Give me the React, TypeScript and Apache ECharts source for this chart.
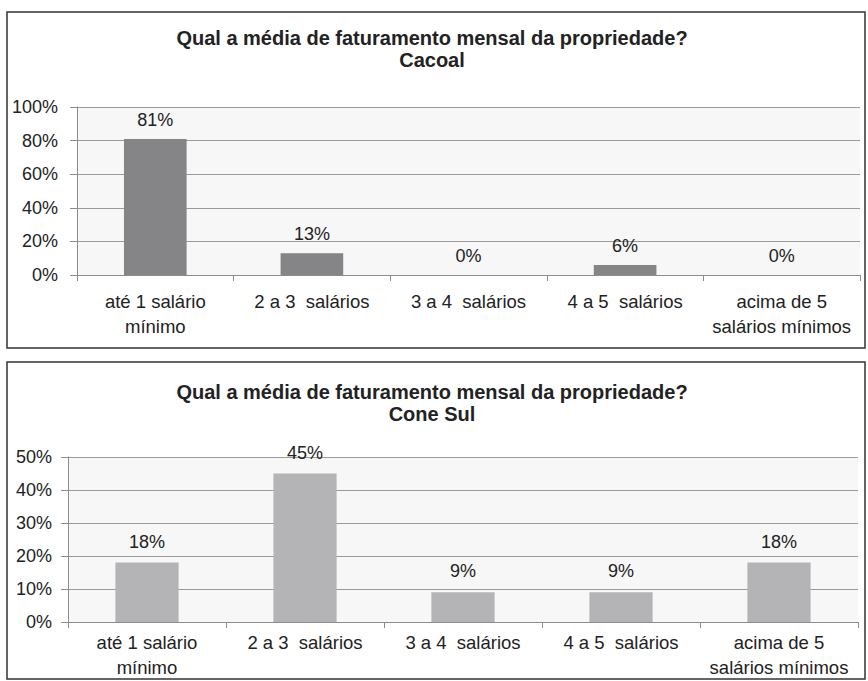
import React, { useEffect, useRef } from "react";
import * as echarts from "echarts";

const categories = [
  "até 1 salário\nmínimo",
  "2 a 3  salários",
  "3 a 4  salários",
  "4 a 5  salários",
  "acima de 5\nsalários mínimos",
];
const cacoalValues = [81, 13, 0, 6, 0];
const coneSulValues = [18, 45, 9, 9, 18];
const titleCacoal = "Qual a média de faturamento mensal da propriedade?\nCacoal";
const titleConeSul = "Qual a média de faturamento mensal da propriedade?\nCone Sul";

const FONT = "Liberation Sans, Arial, Helvetica, sans-serif";

export default function App() {
  const ref = useRef<HTMLDivElement>(null);
  useEffect(() => {
    if (!ref.current) return;
    const chart = echarts.init(ref.current, null, { renderer: "svg" });
    const axisGray = "#8c8c8c";
    const mkX = (gi: number, margin: number) => ({
      type: "category" as const,
      gridIndex: gi,
      data: categories,
      boundaryGap: true,
      axisLine: { show: true, lineStyle: { color: axisGray, width: 1 } },
      axisTick: { show: true, length: 6, lineStyle: { color: axisGray } },
      axisLabel: {
        fontSize: 18.5,
        color: "#222",
        fontFamily: FONT,
        lineHeight: 25,
        margin,
        interval: 0,
      },
    });
    const mkY = (gi: number, max: number, interval: number, margin: number) => ({
      type: "value" as const,
      gridIndex: gi,
      min: 0,
      max,
      interval,
      axisLine: { show: true, lineStyle: { color: axisGray, width: 1 } },
      axisTick: { show: true, length: 7, lineStyle: { color: axisGray } },
      axisLabel: {
        formatter: "{value}%",
        fontSize: 18,
        color: "#222",
        fontFamily: FONT,
        margin,
      },
      splitLine: { show: true, lineStyle: { color: "#9a9a9a", width: 1 } },
    });
    const label = {
      show: true,
      position: "top" as const,
      distance: 10,
      formatter: "{c}%",
      fontSize: 18,
      color: "#222",
      fontFamily: FONT,
    };
    const titleStyle = { fontSize: 20, fontWeight: "bold", color: "#222", fontFamily: FONT, lineHeight: 22 };
    chart.setOption({
      animation: false,
      backgroundColor: "#ffffff",
      title: [
        { text: titleCacoal, left: 432, top: 27, padding: 0, textAlign: "center", textStyle: titleStyle },
        { text: titleConeSul, left: 432, top: 381, padding: 0, textAlign: "center", textStyle: titleStyle },
      ],
      graphic: [
        { type: "rect", shape: { x: 7, y: 12, width: 858, height: 336 }, style: { fill: "none", stroke: "#333", lineWidth: 1.5 }, z: 100 },
        { type: "rect", shape: { x: 7, y: 362, width: 858, height: 317 }, style: { fill: "none", stroke: "#333", lineWidth: 1.5 }, z: 100 },
      ],
      grid: [
        { left: 77, top: 107, width: 783, height: 168, show: true, backgroundColor: "#f7f7f7", borderWidth: 0 },
        { left: 68, top: 457, width: 790, height: 165, show: true, backgroundColor: "#f7f7f7", borderWidth: 0 },
      ],
      xAxis: [mkX(0, 14), mkX(1, 8)],
      yAxis: [mkY(0, 100, 20, 19), mkY(1, 50, 10, 16)],
      series: [
        {
          type: "bar",
          xAxisIndex: 0,
          yAxisIndex: 0,
          data: cacoalValues,
          barWidth: "40%",
          itemStyle: { color: "#858587" },
          label,
        },
        {
          type: "bar",
          xAxisIndex: 1,
          yAxisIndex: 1,
          data: coneSulValues,
          barWidth: "40%",
          itemStyle: { color: "#b4b4b6" },
          label: { ...label, distance: 12 },
        },
      ],
    });
    return () => chart.dispose();
  }, []);
  return (
    <div
      ref={ref}
      style={{ position: "fixed", left: 0, top: 0, width: 868, height: 681 }}
    />
  );
}
